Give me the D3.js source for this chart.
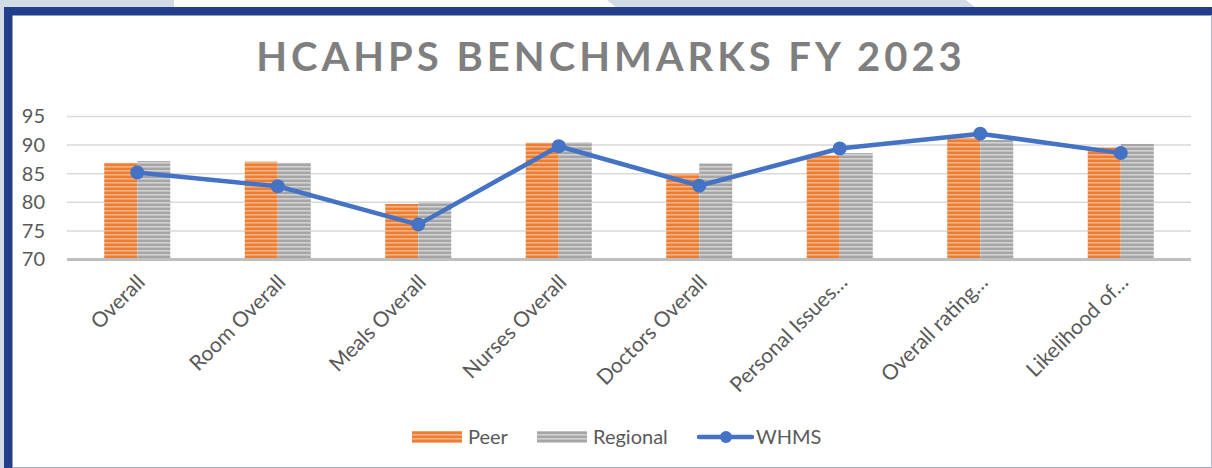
<!DOCTYPE html>
<html>
<head>
<meta charset="utf-8">
<script src="https://cdn.jsdelivr.net/npm/d3@7"></script>
<style>
  html, body { margin: 0; padding: 0; background: #fff; }
  svg { display: block; font-family: Lato, "Open Sans", sans-serif; }
</style>
</head>
<body>
<div id="graph"></div>
<script>
// chart data
const categories = ["Overall", "Room Overall", "Meals Overall", "Nurses Overall",
  "Doctors Overall", "Personal Issues…", "Overall rating…", "Likelihood of…"];
const peer     = [86.9, 87.1, 79.7, 90.4, 85.0, 88.2, 91.3, 89.6];
const regional = [87.2, 86.9, 80.1, 90.5, 86.8, 88.6, 90.9, 90.2];
const whms     = [85.2, 82.8, 76.1, 89.8, 82.9, 89.4, 92.0, 88.6];
const yTicks   = [70, 75, 80, 85, 90, 95];
const seriesNames = ["Peer", "Regional"];

const W = 1212, H = 468;
const svg = d3.select("#graph").append("svg")
  .attr("width", W).attr("height", H)
  .attr("viewBox", "0 0 " + W + " " + H);

// stripe patterns for the bars
const defs = svg.append("defs");
function stripes(id, base, light) {
  const p = defs.append("pattern")
    .attr("id", id).attr("patternUnits", "userSpaceOnUse")
    .attr("width", 8).attr("height", 4);
  p.append("rect").attr("width", 8).attr("height", 4).attr("fill", base);
  p.append("rect").attr("y", 2.2).attr("width", 8).attr("height", 1.3).attr("fill", light);
}
stripes("peerPat", "#ED7D31", "#F8BE98");
stripes("regPat", "#A5A5A5", "#DCDCDC");
const fills = { Peer: "url(#peerPat)", Regional: "url(#regPat)" };

// slide background bits & frame
svg.append("rect").attr("x", 0).attr("y", 0).attr("width", 174).attr("height", 8).attr("fill", "#D0DBE5");
svg.append("rect").attr("x", 0).attr("y", 0).attr("width", 5).attr("height", H).attr("fill", "#D0DBE5");
svg.append("polygon").attr("points", "607,0 966,0 976,8 617,8").attr("fill", "#D0DBE5");
svg.append("rect").attr("x", 4).attr("y", 7).attr("width", W - 4).attr("height", 8.5).attr("fill", "#233E8B");
svg.append("rect").attr("x", 4).attr("y", 7).attr("width", 8.5).attr("height", H - 7).attr("fill", "#233E8B");
svg.append("line").attr("x1", 12).attr("x2", W).attr("y1", 467.5).attr("y2", 467.5)
  .attr("stroke", "#9FA6CF").attr("stroke-width", 1);
svg.append("line").attr("x1", 1211.5).attr("x2", 1211.5).attr("y1", 15).attr("y2", H)
  .attr("stroke", "#B4BAD8").attr("stroke-width", 1);

// title
svg.append("text")
  .attr("x", 611).attr("y", 71)
  .attr("text-anchor", "middle")
  .attr("font-size", 40).attr("font-weight", "bold")
  .attr("letter-spacing", 4)
  .attr("fill", "#7F7F7F")
  .text("HCAHPS BENCHMARKS FY 2023");

// scales
const x = d3.scaleBand().domain(categories).range([67, 1191]).paddingInner(0.53).paddingOuter(0.265);
const xs = d3.scaleBand().domain(seriesNames).range([0, x.bandwidth()]);
const y = d3.scaleLinear().domain([70, 95]).range([259.5, 116.5]);

// gridlines
svg.append("g").selectAll("line")
  .data(yTicks.filter(t => t > 70))
  .enter().append("line")
  .attr("x1", 67).attr("x2", 1191)
  .attr("y1", d => y(d)).attr("y2", d => y(d))
  .attr("stroke", "#D9D9D9").attr("stroke-width", 1.5);

// y axis labels
const yAxis = svg.append("g")
  .attr("transform", "translate(45,0)")
  .call(d3.axisLeft(y).tickValues(yTicks).tickSize(0).tickPadding(0));
yAxis.select(".domain").remove();
yAxis.selectAll("text")
  .attr("font-family", "Lato, sans-serif")
  .attr("font-size", 20).attr("fill", "#595959");

// bars
const groups = svg.append("g").selectAll("g")
  .data(categories)
  .enter().append("g")
  .attr("transform", d => "translate(" + x(d) + ",0)");
groups.selectAll("rect")
  .data((d, i) => [{ s: "Peer", v: peer[i] }, { s: "Regional", v: regional[i] }])
  .enter().append("rect")
  .attr("x", d => xs(d.s))
  .attr("y", d => y(d.v))
  .attr("width", xs.bandwidth())
  .attr("height", d => y(70) - y(d.v))
  .attr("fill", d => fills[d.s]);

// x axis line
svg.append("line")
  .attr("x1", 67).attr("x2", 1191)
  .attr("y1", y(70)).attr("y2", y(70))
  .attr("stroke", "#BFBFBF").attr("stroke-width", 3);

// x labels
const xAxis = svg.append("g")
  .attr("transform", "translate(0," + y(70) + ")")
  .call(d3.axisBottom(x).tickSize(0).tickPadding(0));
xAxis.select(".domain").remove();
xAxis.selectAll("text")
  .attr("font-family", "Lato, sans-serif")
  .attr("font-size", 21).attr("fill", "#595959")
  .attr("dy", 0)
  .style("text-anchor", "end")
  .attr("transform", "translate(9,24)rotate(-45)");

// WHMS line
const pts = categories.map((c, i) => [x(c) + x.bandwidth() / 2, y(whms[i])]);
svg.append("path")
  .attr("d", d3.line()(pts))
  .attr("fill", "none").attr("stroke", "#4472C4")
  .attr("stroke-width", 4.5).attr("stroke-linejoin", "round");
svg.append("g").selectAll("circle")
  .data(pts).enter().append("circle")
  .attr("cx", d => d[0]).attr("cy", d => d[1]).attr("r", 7)
  .attr("fill", "#4472C4");

// legend
const leg = svg.append("g").attr("font-size", 20).attr("fill", "#595959");
leg.append("rect").attr("x", 412).attr("y", 431).attr("width", 50).attr("height", 12).attr("fill", fills.Peer);
leg.append("text").attr("x", 468).attr("y", 444).text("Peer");
leg.append("rect").attr("x", 537).attr("y", 431).attr("width", 50).attr("height", 12).attr("fill", fills.Regional);
leg.append("text").attr("x", 593).attr("y", 444).text("Regional");
leg.append("line").attr("x1", 699).attr("x2", 752).attr("y1", 437).attr("y2", 437)
  .attr("stroke", "#4472C4").attr("stroke-width", 4.5).attr("stroke-linecap", "round");
leg.append("circle").attr("cx", 726).attr("cy", 437).attr("r", 6).attr("fill", "#4472C4");
leg.append("text").attr("x", 756).attr("y", 444).text("WHMS");
</script>
</body>
</html>
